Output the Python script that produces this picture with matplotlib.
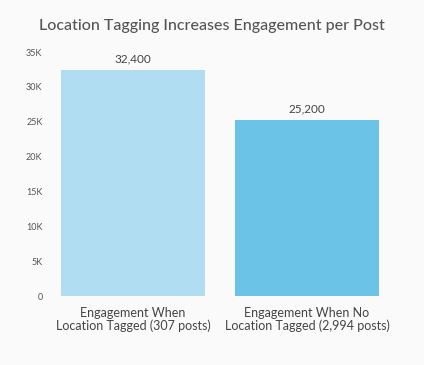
import matplotlib
matplotlib.use("Agg")
import matplotlib.pyplot as plt
from matplotlib.ticker import FuncFormatter

# Dados
categorias = ["Engagement When\nLocation Tagged (307 posts)",
              "Engagement When No\nLocation Tagged (2,994 posts)"]
engajamento = [32400, 25200]
rotulos = ["32,400", "25,200"]
cores = ["#b1ddf3", "#6bc3e8"]
ticks_y = [0, 5000, 10000, 15000, 20000, 25000, 30000, 35000]

plt.rcParams['font.family'] = ['Lato', 'DejaVu Sans']

fig = plt.figure(figsize=(4.24, 3.65), dpi=100)
fig.patch.set_facecolor("#fafafa")
ax = fig.add_axes([46 / 424, 69 / 365, 348 / 424, 244 / 365])
ax.set_facecolor("#fafafa")

x = range(len(categorias))
barras = ax.bar(x, engajamento, width=0.828, color=cores)

for b, txt in zip(barras, rotulos):
    ax.text(b.get_x() + b.get_width() / 2, b.get_height() + 800, txt,
            ha="center", va="bottom", fontsize=8.5, color="#444444")

ax.set_xlim(-0.5, 1.5)
ax.set_ylim(0, 35000)
ax.set_yticks(ticks_y)
ax.yaxis.set_major_formatter(FuncFormatter(lambda v, p: "0" if v == 0 else f"{int(v/1000)}K"))
ax.set_xticks(list(x))
ax.set_xticklabels(categorias, fontsize=9, color="#444444", linespacing=1.05)
ax.tick_params(axis="y", length=0, labelsize=6.5, labelcolor="#555555", pad=2.5)
ax.tick_params(axis="x", length=0, pad=8)
for s in ax.spines.values():
    s.set_visible(False)

fig.text(0.5, 0.93, "Location Tagging Increases Engagement per Post",
         ha="center", va="center", fontsize=11.5, color="#555555", weight="medium")

fig.savefig("out.png", dpi=100, facecolor=fig.get_facecolor())
